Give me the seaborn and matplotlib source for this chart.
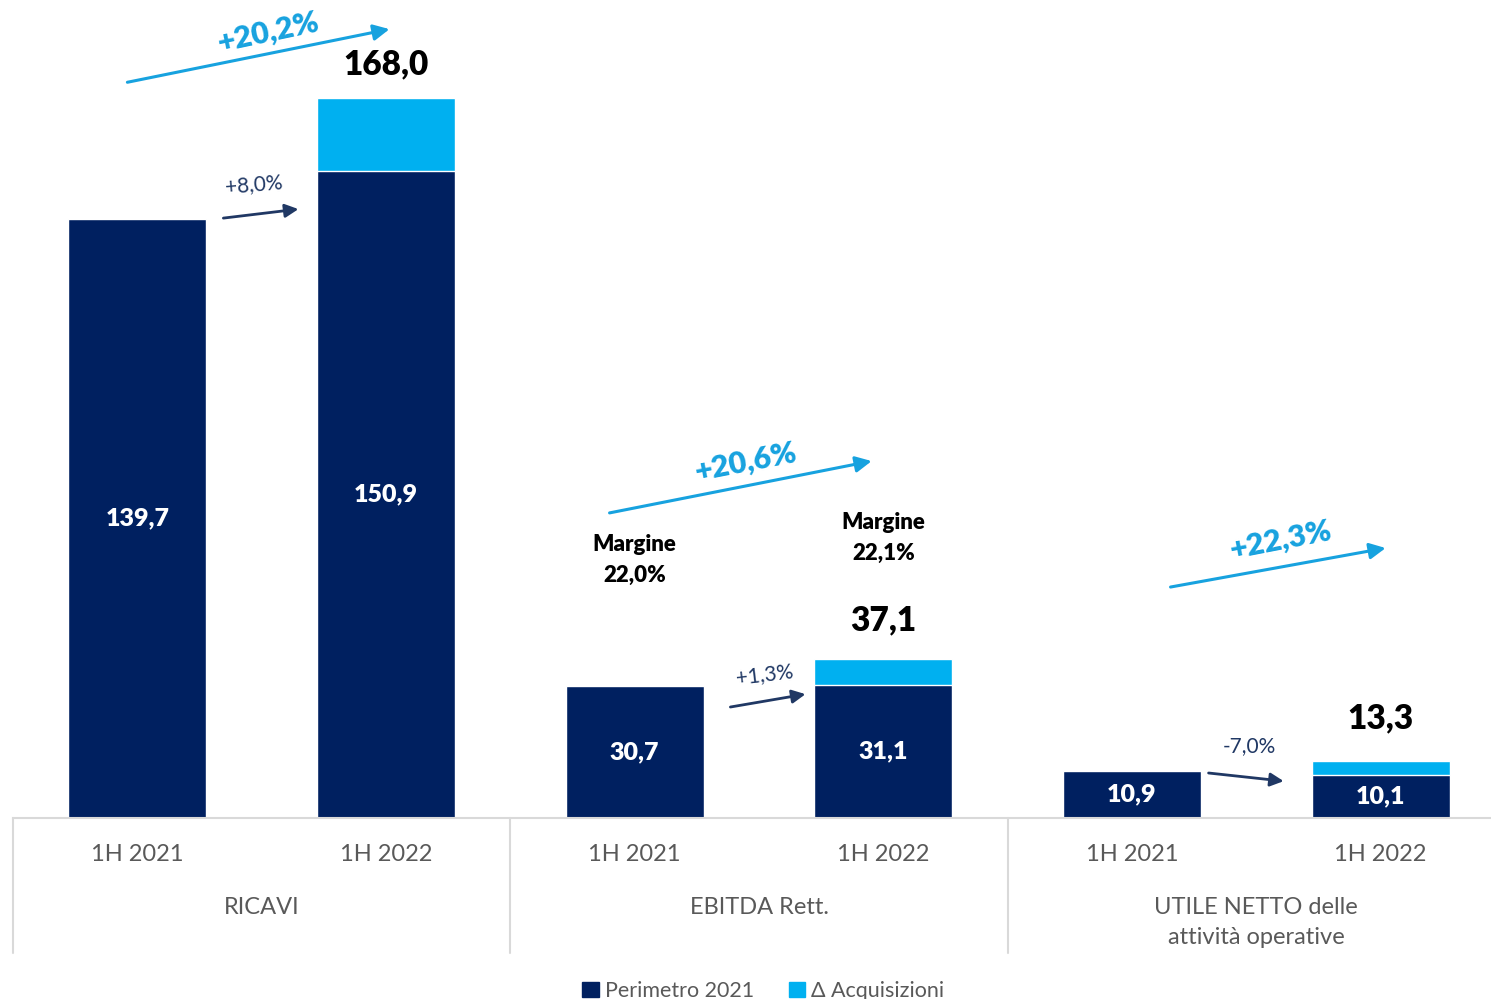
import numpy as np
import pandas as pd
import seaborn as sns
import matplotlib.pyplot as plt
from matplotlib.patches import Patch
from matplotlib.lines import Line2D

# data
groups = ["RICAVI", "EBITDA Rett.", "UTILE NETTO delle\nattività operative"]
periods = ["1H 2021", "1H 2022"]
perimetro = [139.7, 150.9, 30.7, 31.1, 10.9, 10.1]
totale = [139.7, 168.0, 30.7, 37.1, 10.9, 13.3]
margini = ["", "", "Margine\n22,0%", "Margine\n22,1%", "", ""]
crescita_tot = ["+20,2%", "+20,6%", "+22,3%"]
crescita_org = ["+8,0%", "+1,3%", "-7,0%"]

NAVY = "#002060"
LIGHT = "#00B0F0"
ARROW_LIGHT = "#17A2DF"
ARROW_DARK = "#203864"
GRAY = "#595959"
LINE = "#D9D9D9"

bar_ids = [f"{g}|{p}" for g in groups for p in periods]
df = pd.DataFrame({"bar": bar_ids, "Perimetro 2021": perimetro, "Totale": totale})

sns.set_theme(style="white")
plt.rcParams["font.family"] = ["Lato", "DejaVu Sans"]

fig = plt.figure(figsize=(14.91, 9.99), dpi=100)
ax = fig.add_axes([13 / 1491, 181 / 999, 1492 / 1491, 818 / 999])

sns.barplot(data=df, x="bar", y="Totale", order=bar_ids, color=LIGHT,
            width=0.555, saturation=1, ax=ax)
sns.barplot(data=df, x="bar", y="Perimetro 2021", order=bar_ids, color=NAVY,
            width=0.555, saturation=1, ax=ax)

ax.set_xlim(-0.5, 5.5)
ax.set_ylim(0, 190.9)
ax.set_xlabel("")
ax.set_ylabel("")
ax.set_yticks([])
ax.set_xticks(range(6))
ax.set_xticklabels(periods * 3, fontsize=17, color=GRAY)
ax.tick_params(axis="x", length=0, pad=19)
for s in ["top", "right", "left"]:
    ax.spines[s].set_visible(False)
ax.spines["bottom"].set_color(LINE)
ax.spines["bottom"].set_linewidth(1.5)

# group separators and labels
xt = ax.get_xaxis_transform()
for xs in [-0.5, 1.5, 3.5, 5.5]:
    ax.add_line(Line2D([xs, xs], [0, -135 / 818], transform=xt, color=LINE,
                       lw=1.5, clip_on=False))
for i, g in enumerate(groups):
    ax.text(2 * i + 0.5, -79 / 818, g, transform=xt, ha="center", va="top",
            fontsize=17, color=GRAY, linespacing=1.55)

# values inside bars
for i, v in enumerate(perimetro):
    ax.text(i, v / 2, f"{v:.1f}".replace(".", ","), ha="center", va="center",
            color="white", fontsize=18, fontweight="heavy")
# totals above stacked bars
offsets = {1: 24, 3: 28, 5: 31}
for i, off in offsets.items():
    ax.annotate(f"{totale[i]:.1f}".replace(".", ","), (i, totale[i]),
                xytext=(0, off), textcoords="offset points", ha="center",
                va="center", fontsize=24, fontweight="heavy", color="black")
# margins
for i, m in enumerate(margini):
    if m:
        ax.annotate(m, (i, totale[i]), xytext=(0, 91 if i == 2 else 87),
                    textcoords="offset points", ha="center", va="center",
                    fontsize=16, fontweight="heavy", color="black",
                    linespacing=1.6)

# growth arrows (data coordinates)
big = [((-0.04, 171.7), (1.014, 184.1), (0.528, 183.3), 12),
       ((1.899, 71.2), (2.953, 83.3), (2.446, 83.1), 11),
       ((4.155, 53.9), (5.02, 63.0), (4.598, 64.9), 11)]
for (a, b, t, rot), lab in zip(big, crescita_tot):
    ax.annotate("", xy=b, xytext=a,
                arrowprops=dict(arrowstyle="-|>", lw=2.2, color=ARROW_LIGHT,
                                mutation_scale=24, shrinkA=0, shrinkB=0))
    ax.text(*t, lab, ha="center", va="center", rotation=rot, fontsize=22,
            fontweight="heavy", color=ARROW_LIGHT)

small = [((0.346, 140.0), (0.648, 142.1), (0.467, 147.9), 5),
         ((2.385, 25.9), (2.687, 28.9), (2.522, 33.4), 7),
         ((4.308, 10.5), (4.61, 8.6), (4.473, 16.8), 0)]
for (a, b, t, rot), lab in zip(small, crescita_org):
    ax.annotate("", xy=b, xytext=a,
                arrowprops=dict(arrowstyle="-|>", lw=2, color=ARROW_DARK,
                                mutation_scale=20, shrinkA=0, shrinkB=0))
    ax.text(*t, lab, ha="center", va="center", rotation=rot, fontsize=15,
            color=ARROW_DARK)

handles = [Patch(color=NAVY, label="Perimetro 2021"),
           Patch(color=LIGHT, label="Δ Acquisizioni")]
fig.legend(handles=handles, loc="center", bbox_to_anchor=(0.512, 0.008),
           ncol=2, frameon=False, fontsize=15.5, labelcolor=GRAY,
           handlelength=0.75, handleheight=0.75, handletextpad=0.3,
           columnspacing=1.6)

fig.savefig("out.png", dpi=100)
